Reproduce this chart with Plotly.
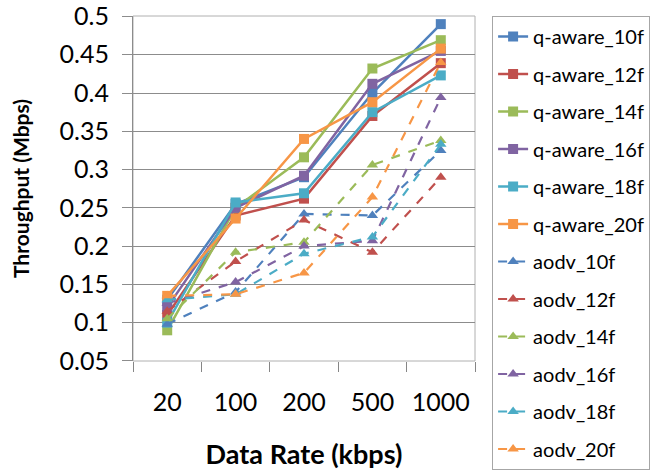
import plotly.graph_objects as go

rates = ["20", "100", "200", "500", "1000"]
y_ticks = [0.05, 0.1, 0.15, 0.2, 0.25, 0.3, 0.35, 0.4, 0.45, 0.5]
y_tick_text = ["0.05", "0.1", "0.15", "0.2", "0.25", "0.3", "0.35", "0.4", "0.45", "0.5"]

q_aware_10f = [0.130, 0.255, 0.290, 0.400, 0.490]
q_aware_12f = [0.110, 0.240, 0.262, 0.370, 0.439]
q_aware_14f = [0.090, 0.250, 0.316, 0.432, 0.469]
q_aware_16f = [0.120, 0.250, 0.292, 0.412, 0.455]
q_aware_18f = [0.100, 0.257, 0.269, 0.375, 0.423]
q_aware_20f = [0.135, 0.236, 0.340, 0.388, 0.458]

aodv_10f = [0.098, 0.140, 0.242, 0.240, 0.325]
aodv_12f = [0.115, 0.180, 0.234, 0.192, 0.290]
aodv_14f = [0.105, 0.192, 0.205, 0.306, 0.338]
aodv_16f = [0.125, 0.153, 0.200, 0.207, 0.394]
aodv_18f = [0.130, 0.137, 0.190, 0.212, 0.333]
aodv_20f = [0.135, 0.137, 0.165, 0.264, 0.440]

colors = ["#4F81BD", "#C0504D", "#9BBB59", "#8064A2", "#4BACC6", "#F79646"]
q_names = ["q-aware_10f", "q-aware_12f", "q-aware_14f", "q-aware_16f", "q-aware_18f", "q-aware_20f"]
a_names = ["aodv_10f", "aodv_12f", "aodv_14f", "aodv_16f", "aodv_18f", "aodv_20f"]
q_series = [q_aware_10f, q_aware_12f, q_aware_14f, q_aware_16f, q_aware_18f, q_aware_20f]
a_series = [aodv_10f, aodv_12f, aodv_14f, aodv_16f, aodv_18f, aodv_20f]

fig = go.Figure()
for i, (n, s) in enumerate(zip(q_names, q_series)):
    fig.add_trace(go.Scatter(x=rates, y=s, name=n, mode="lines+markers",
                             legendgroup=n,
                             line=dict(color=colors[i], width=2.5),
                             marker=dict(symbol="square", size=10, color=colors[i])))
for i, (n, s) in enumerate(zip(a_names, a_series)):
    fig.add_trace(go.Scatter(x=rates, y=s, name=n, mode="lines+markers",
                             legendgroup=n,
                             line=dict(color=colors[i], width=2.2, dash="dash"),
                             marker=dict(symbol="triangle-up", size=10, color=colors[i])))

font_family = "Lato, 'Open Sans', sans-serif"
fig.update_layout(
    width=665, height=471,
    margin=dict(l=133, r=190, t=16, b=110, autoexpand=False),
    paper_bgcolor="white", plot_bgcolor="white",
    font=dict(family=font_family, color="#000000"),
    showlegend=True,
    legend=dict(x=1.05, xanchor="left", y=1.0, yanchor="top",
                bordercolor="#A6A6A6", borderwidth=1,
                font=dict(size=20, family=font_family),
                tracegroupgap=8.5, itemwidth=30, maxheight=460),
    xaxis=dict(type="category", tickson="boundaries", ticks="outside", ticklen=10,
               tickcolor="#868686", showgrid=False, showline=False,
               tickfont=dict(size=25), ticklabelstandoff=24,
               title=dict(text="<b>Data Rate (kbps)</b>", font=dict(size=27), standoff=30),
               range=[-0.5, 4.5]),
    yaxis=dict(range=[0.0499, 0.5006], tickmode="array", tickvals=y_ticks, ticktext=y_tick_text,
               showgrid=True, gridcolor="#8C8C8C", gridwidth=1,
               showline=True, linecolor="#8C8C8C",
               ticks="outside", ticklen=10, tickcolor="#8C8C8C",
               tickfont=dict(size=25), zeroline=False, ticklabelstandoff=8,
               title=dict(text="<b>Throughput (Mbps)</b>", font=dict(size=21), standoff=24)),
    shapes=[dict(type="rect", xref="paper", yref="paper", x0=0, x1=1, y0=0, y1=1,
                 line=dict(color="#B0B0B0", width=1), layer="below")],
)

fig.write_html("out.html")
